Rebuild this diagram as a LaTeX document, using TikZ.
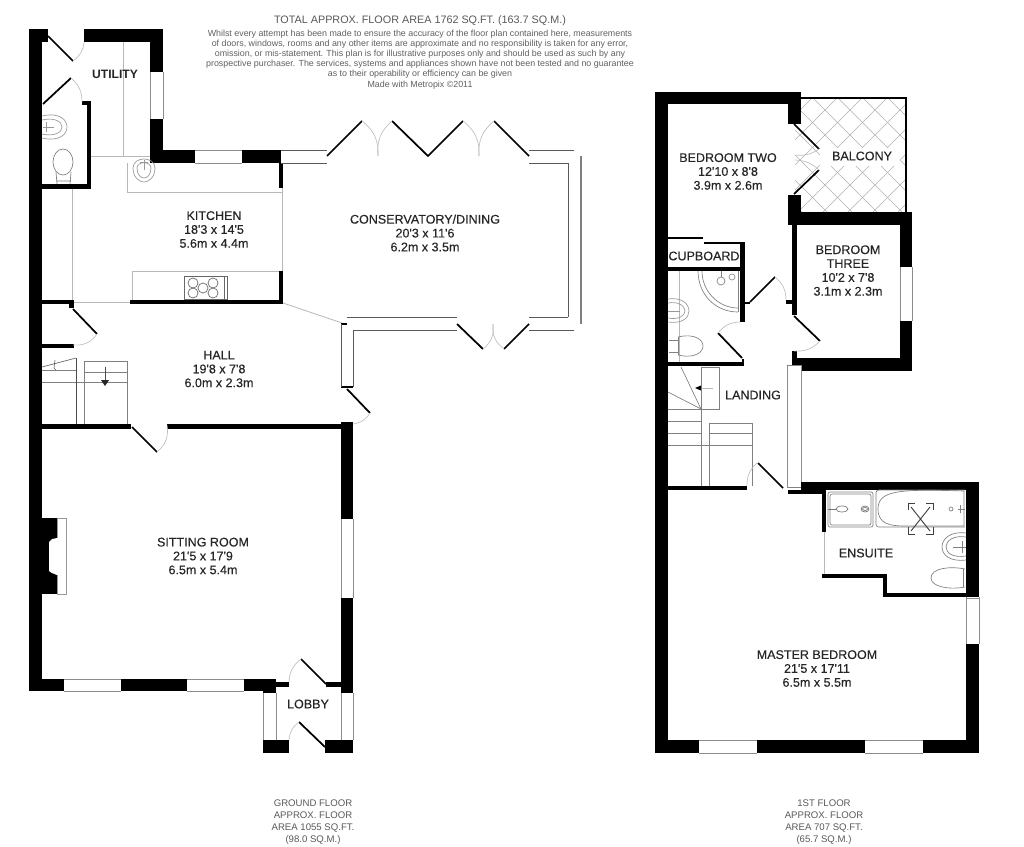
\documentclass[tikz,border=0pt]{standalone}
\usepackage{fontspec}
\setmainfont{Liberation Sans}
\newfontfamily\labelfont[FakeBold=0.22]{Liberation Sans}
\newcommand{\wl}[4]{\fill[wallfill] (#1,#2) rectangle (#3,#4);}
\newcommand{\wnv}[4]{\fill[white] (#1,#2) rectangle (#3,#4);\draw[winline] (#1,#2) -- (#1,#4) (#3,#2) -- (#3,#4);}
\newcommand{\wnh}[4]{\fill[white] (#1,#2) rectangle (#3,#4);\draw[winline] (#1,#2) -- (#3,#2) (#1,#4) -- (#3,#4);}
\tikzset{
  x=0.75pt,y=-0.75pt,
  wallfill/.style={fill=black},
  winline/.style={draw=black!45,line width=0.75pt},
  fixline/.style={draw=black!40,line width=0.5pt},
  glassline/.style={draw=black!65,line width=0.7pt},
  lightline/.style={draw=black!28,line width=0.6pt},
  doorleaf/.style={draw=black,line width=1.3pt},
  swing/.style={draw=black!25,line width=0.5pt},
  thinwall/.style={draw=black,line width=0.8pt},
  roomlabel/.style={font=\labelfont\fontsize{9.4}{10.4}\selectfont,align=center,text=black!85,inner sep=0pt},
  infotext/.style={font=\fontsize{6.65}{7.6}\selectfont,align=center,text=black!62,inner sep=0pt},
  headtext/.style={font=\fontsize{8.1}{9}\selectfont,align=center,text=black!65,inner sep=0pt},
  floortext/.style={font=\fontsize{7.2}{9}\selectfont,align=center,text=black!65,inner sep=0pt},
}
\begin{document}
\begin{tikzpicture}
\useasboundingbox (0,0) rectangle (1024,846);
\fill[white] (0,0) rectangle (1024,846);

%% ===== balcony lattice =====
\begin{scope}
\clip (795,98) rectangle (906,212);
\foreach \k in {-12,...,12} {
  \draw[lightline,draw=black!30,line width=0.5pt] (780+\k*25,90) -- ++(140,140);
  \draw[lightline,draw=black!30,line width=0.5pt] (920+\k*25,90) -- ++(-140,140);
}
\end{scope}
\fill[white] (820,148) rectangle (900,166);
\draw[thinwall,line width=1pt] (801,98) -- (906,98) -- (906,212);

%% ===== GROUND FLOOR light lines =====
\draw[lightline] (123,42) -- (123,156);
\draw[lightline] (91,156) -- (157,156);
\draw[lightline] (72,189) -- (72,302) -- (130,302);
\draw[lightline] (127,163) -- (127,192) -- (282,192);
\draw[lightline] (282,188) -- (282,271);
\draw[lightline] (132,300) -- (132,271) -- (280,271);
\draw[lightline] (283,303) -- (342,323);

%% walls ground
\wl{29}{29}{42}{691}
\wl{42}{29}{48}{42}
\wl{84}{29}{163}{42}
\wl{150}{42}{163}{72}
\wnv{150}{72}{163}{119}
\wl{150}{119}{163}{163}
\wl{163}{150}{195}{163}
\wnh{195}{150}{242}{163}
\wl{242}{150}{281}{163}
\wl{279}{163}{283}{188}
\wl{279}{271}{283}{304}
\wl{130}{300}{283}{304}
\wl{42}{300}{74}{304}
\wl{69}{304}{74}{308}
\wl{42}{344}{74}{348}
\wl{42}{424}{131}{429}
\wl{167}{424}{341}{429}
\wl{341}{422}{353}{519}
\wnv{341}{519}{353}{598}
\wl{341}{598}{353}{693}
\wl{42}{679}{64}{691}
\wnh{64}{679}{121}{691}
\wl{121}{679}{187}{691}
\wnh{187}{679}{244}{691}
\wl{244}{679}{276}{691}
\wl{263}{691}{276}{693}
\wl{276}{682}{289}{687}
\wl{326}{682}{341}{687}
\wnv{263}{693}{276}{740}
\wnv{341}{693}{353}{740}
\wl{263}{740}{289}{753}
\wl{325}{740}{353}{753}
%% utility WC partition
\wl{82}{101}{91}{105}
\wl{87}{101}{91}{189}
\wl{42}{184}{91}{189}
%% fireplace
\fill[black] (42,518) rectangle (57,594);
\fill[white] (57,538) -- (52,539) -- (49,542) -- (49,571) -- (52,573) -- (57,575) -- cycle;
\draw[fixline] (57,518) -- (66,518) -- (66,594) -- (57,594);
\draw[fixline] (57,518) -- (57,538) (57,575) -- (57,594);

%% conservatory
\draw[glassline] (281,150) -- (327,150) (281,163) -- (327,163);
\draw[glassline] (529,150) -- (574,150) (529,163) -- (568,163);
\draw[glassline] (568,163) -- (568,317);
\draw[lightline,draw=black!50,line width=0.8pt] (581,156) -- (581,324);
\draw[glassline] (347,317) -- (457,317) (353,330) -- (457,330);
\draw[glassline] (529,317) -- (568,317) (529,330) -- (574,330);
\draw[thinwall,line width=1pt] (341,324) -- (347,324);
\draw[thinwall,line width=1.1pt] (341,387) -- (353,387);
\draw[glassline] (353,330) -- (353,387) (341,324) -- (341,387);
\draw[doorleaf] (327,156) -- (362,121);
\draw[doorleaf] (392,121) -- (428,156) -- (463,121);
\draw[doorleaf] (494,121) -- (529,156);
\draw[doorleaf] (457,324) -- (483,349);
\draw[doorleaf] (529,324) -- (504,349);
\draw[swing] (362,121) to[bend left=28] (378,156);
\draw[swing] (392,121) to[bend right=28] (378,156);
\draw[swing] (463,121) to[bend left=28] (479,156);
\draw[swing] (494,121) to[bend right=28] (479,156);
\draw[swing] (483,349) to[bend right=30] (493,324);
\draw[swing] (504,349) to[bend left=30] (493,324);
\draw[doorleaf] (347,389) -- (370,413);
\draw[swing] (370,413) to[bend left=25] (353,424);

%% doors ground
\draw[doorleaf] (48,36) -- (73,61);
\draw[swing] (73,61) to[bend right=25] (84,42);
\draw[doorleaf] (71,78) -- (43,104);
\draw[swing] (71,78) to[bend left=25] (82,102);
\draw[doorleaf] (73,309) -- (97,334);
\draw[swing] (97,334) to[bend left=30] (73,345);
\draw[doorleaf] (132,427) -- (157,452);
\draw[swing] (157,452) to[bend right=30] (167,425);
\draw[doorleaf] (301,659) -- (326,684);
\draw[swing] (301,659) to[bend right=25] (289,682);
\draw[doorleaf] (299,722) -- (325,747);
\draw[swing] (299,722) to[bend right=25] (289,740);

%% fixtures ground
\draw[fixline] (133,168) .. controls (133,156) and (155,156) .. (155,168) .. controls (155,178) and (148,182) .. (144,182) .. controls (140,182) and (133,178) .. (133,168);
\draw[fixline] (137,168) .. controls (137,161) and (151,161) .. (151,168) .. controls (151,175) and (147,178) .. (144,178) .. controls (141,178) and (137,175) .. (137,168);
\draw[fixline] (144,160) -- (144,170) (140,162) -- (148,162);
\draw[fixline] (42,116) .. controls (60,112) and (67,120) .. (67,127) .. controls (67,134) and (60,142) .. (42,138);
\draw[fixline] (42,120) .. controls (55,117) and (62,122) .. (62,127) .. controls (62,132) and (55,137) .. (42,134);
\draw[fixline] (43,127) -- (54,127) (46,122) -- (46,132);
\draw[fixline,draw=black!50] (63,162) ellipse (10 and 13);
\draw[fixline,draw=black!50] (56,172) -- (57,184) (71,172) -- (70,184) (57,181) -- (71,181);
\fill[white] (186,277) rectangle (225,298);
\draw[fixline,draw=black!60] (184,276) rectangle (227,299);
\foreach \cx/\cy in {193/283,213/283,193/293,213/293,203/288}
  \draw[fixline,draw=black!60] (\cx,\cy) circle (5);
\draw[fixline,draw=black!60] (224,276) -- (224,299);

%% ground stairs
\draw[fixline,draw=black!50] (84,424) -- (84,361) -- (127,361) -- (127,424);
\draw[fixline,draw=black!50] (84,372) -- (127,372);
\draw[fixline,draw=black!50] (42,382) -- (127,382);
\draw[fixline,draw=black!50] (42,370) -- (76,370);
\draw[thinwall,draw=black!70,line width=0.6pt] (76,358) -- (76,424);
\draw[thinwall,draw=black!60,line width=0.5pt] (42,367) -- (76,358);
\draw[fixline,draw=black!60] (54,368) -- (55,360) (54,368) -- (56,370);
\draw[thinwall,draw=black!70,line width=0.5pt] (105,367) -- (105,381);
\fill[black!85] (101,380) -- (109,380) -- (105,386) -- cycle;

%% ===== FIRST FLOOR =====
\wl{655}{92}{668}{753}
\wl{668}{92}{801}{104}
\wl{788}{104}{801}{124}
\wl{788}{195}{801}{225}
\wl{801}{212}{912}{225}
\wl{900}{225}{912}{267}
\wnv{900}{267}{912}{321}
\wl{900}{321}{912}{371}
\wl{792}{358}{900}{371}
\wl{792}{225}{797}{315}
\wl{792}{351}{797}{358}
\wl{786}{300}{792}{304}
%% cupboard
\draw[thinwall,line width=1pt] (668,238) -- (703,238);
\draw[thinwall,line width=1pt] (704,243) -- (742,243);
\wl{740}{242}{745}{322}
\wl{668}{267}{745}{271}
\wl{745}{302}{750}{304}
\wl{668}{362}{744}{366}
\wl{742}{359}{744}{362}
%% shower
\draw[fixline,draw=black!50] (698,271) .. controls (698,294) and (715,312) .. (738,312);
\draw[fixline,draw=black!50] (702,271) .. controls (702,291) and (718,308) .. (738,308);
\draw[fixline,draw=black!50] (738,271) -- (738,312);
\draw[fixline,draw=black!50] (721,281) circle (4);
\draw[fixline,draw=black!50] (721,277) -- (721,271);
\draw[fixline,draw=black!45] (732,277) circle (3);
%% bath1
\draw[fixline,draw=black!28] (679,271) -- (679,362);
\draw[fixline] (668,299) .. controls (682,297) and (689,304) .. (689,311) .. controls (689,318) and (682,324) .. (668,322);
\draw[fixline] (668,303) .. controls (678,301) and (685,306) .. (685,311) .. controls (685,316) and (678,320) .. (668,318);
\draw[fixline] (668,311) -- (680,311);
\draw[fixline,draw=black!50] (678,337) .. controls (695,333) and (703,340) .. (703,346) .. controls (703,352) and (695,359) .. (678,355);
\draw[fixline,draw=black!50] (678,337) -- (678,355) (678,340) -- (669,340) (678,352) -- (669,352);
%% doors upper
\draw[doorleaf] (794,124) -- (819,149);
\draw[doorleaf] (794,194) -- (819,170);
\draw[swing] (819,149) to[bend left=20] (795,155);
\draw[swing] (819,170) to[bend right=20] (795,160);
\draw[doorleaf] (750,302) -- (775,277);
\draw[swing] (775,277) to[bend left=25] (786,300);
\draw[doorleaf] (718,333) -- (742,358);
\draw[swing] (718,333) to[bend left=25] (740,322);
\draw[doorleaf] (794,316) -- (820,341);
\draw[swing] (820,341) to[bend left=25] (794,351);

%% landing window and stairs
\wnv{787}{365}{801}{487}
\draw[fixline,draw=black!50] (787,365) -- (801,365);
\draw[fixline,draw=black!50] (787,487) -- (801,487);
\draw[fixline,draw=black!50] (701,367) -- (701,486);
\draw[fixline,draw=black!50] (701,367) -- (719,367) -- (719,409) -- (668,409);
\draw[fixline,draw=black!50] (681,367) -- (701,409) (668,392) -- (701,409);
\draw[fixline,draw=black!50] (668,421) -- (701,421) (668,433) -- (701,433) (668,445) -- (752,445);
\draw[fixline,draw=black!50] (709,486) -- (709,423) -- (752,423) -- (752,486);
\draw[fixline,draw=black!50] (709,433) -- (752,433);
\draw[lightline] (713,388) -- (700,388);
\fill[black] (701,385.5) -- (701,390.5) -- (695,388) -- cycle;
\wl{668}{486}{747}{490}
\draw[doorleaf] (758,463) -- (783,488);
\draw[swing] (757,463) to[bend right=25] (747,486);

%% ensuite walls
\wl{801}{482}{979}{490}
\wl{788}{490}{826}{494}
\wl{966}{490}{979}{597}
\wl{822}{494}{826}{532}
\draw[lightline] (824,532) -- (824,575);
\wl{822}{574}{887}{578}
\wl{883}{574}{887}{597}
\wl{883}{593}{979}{597}
\wnv{966}{597}{979}{644}
\draw[winline] (966,598) -- (979,598);
\wl{966}{644}{979}{753}
\wl{668}{740}{699}{753}
\wnh{699}{740}{757}{753}
\wl{757}{740}{865}{753}
\wnh{865}{740}{923}{753}
\wl{923}{740}{966}{753}
%% ensuite fixtures
\draw[fixline,draw=black!50,rounded corners=1.5pt] (828,492) rectangle (873,527);
\draw[fixline,draw=black!50,rounded corners=1.5pt] (830,494) rectangle (871,525);
\draw[fixline,draw=black!55] (842,509) ellipse (6 and 3);
\draw[fixline,draw=black!55] (828,509) -- (836,509);
\draw[fixline,draw=black!55] (865,509) ellipse (4 and 3);
\draw[fixline,draw=black!55] (865,509) ellipse (2.5 and 1.5);
\draw[fixline,draw=black!50,rounded corners=2pt] (965,527) -- (876,527) -- (876,490) -- (965,490);
\draw[fixline,draw=black!50] (964,491) .. controls (900,489) and (878,490) .. (878,509) .. controls (878,524) and (890,526) .. (905,526) -- (964,526) -- cycle;
\draw[fixline,draw=black!50] (951,509) circle (2);
\draw[fixline,draw=black!50] (958,509) -- (965,509) (960,505) -- (960,513);
\begin{scope}[line width=0.7pt,black!75]
\draw (908,510) -- (908,503) -- (915,503);
\draw (926,503) -- (933,503) -- (933,510);
\draw (908,527) -- (908,534) -- (915,534);
\draw (926,534) -- (933,534) -- (933,527);
\draw (911,507) -- (930,531) (930,507) -- (911,531);
\end{scope}
\draw[fixline,draw=black!50] (966,533) .. controls (950,531) and (942,539) .. (942,547) .. controls (942,555) and (950,562) .. (966,560);
\draw[fixline,draw=black!50] (966,537) .. controls (953,535) and (946,541) .. (946,547) .. controls (946,553) and (953,558) .. (966,556);
\draw[fixline,draw=black!50] (966,547) -- (953,547) (962,541) -- (962,553);
\draw[fixline,draw=black!50] (965,569) .. controls (950,566) and (931,568) .. (931,578) .. controls (931,587) and (950,590) .. (965,587);
\draw[fixline,draw=black!50] (963,569) -- (963,587);

%% ===== TEXT =====
\node[roomlabel,font=\fontsize{9.1}{10.4}\bfseries\selectfont] (utility) at (115,74) {UTILITY};
\node[roomlabel] (kitchen) at (214,229.5) {KITCHEN\\18'3 x 14'5\\5.6m x 4.4m};
\node[roomlabel] (conservatory) at (425,233) {CONSERVATORY/DINING\\20'3 x 11'6\\6.2m x 3.5m};
\node[roomlabel] (hall) at (219,369) {HALL\\19'8 x 7'8\\6.0m x 2.3m};
\node[roomlabel] (sitting) at (203,556) {SITTING ROOM\\21'5 x 17'9\\6.5m x 5.4m};
\node[roomlabel] (lobby) at (308,704) {LOBBY};
\node[roomlabel] (bedtwo) at (728,171.5) {BEDROOM TWO\\12'10 x 8'8\\3.9m x 2.6m};
\node[roomlabel] (balcony) at (862,156) {BALCONY};
\node[roomlabel] (cupboard) at (704,256) {CUPBOARD};
\node[roomlabel] (bedthree) at (848,270.5) {BEDROOM\\THREE\\10'2 x 7'8\\3.1m x 2.3m};
\node[roomlabel] (landing) at (753,395) {LANDING};
\node[roomlabel] (ensuite) at (866,553) {ENSUITE};
\node[roomlabel] (master) at (817,668.5) {MASTER BEDROOM\\21'5 x 17'11\\6.5m x 5.5m};
\node[headtext] (total) at (420,21) {TOTAL APPROX. FLOOR AREA 1762 SQ.FT. (163.7 SQ.M.)};
\node[infotext] (disclaimer) at (420,59.5) {Whilst every attempt has been made to ensure the accuracy of the floor plan contained here, measurements\\of doors, windows, rooms and any other items are approximate and no responsibility is taken for any error,\\omission, or mis-statement. This plan is for illustrative purposes only and should be used as such by any\\prospective purchaser. The services, systems and appliances shown have not been tested and no guarantee\\as to their operability or efficiency can be given\\Made with Metropix \textcopyright 2011};
\node[floortext] (groundcap) at (313,822) {GROUND FLOOR\\APPROX. FLOOR\\AREA 1055 SQ.FT.\\(98.0 SQ.M.)};
\node[floortext] (firstcap) at (824,822) {1ST FLOOR\\APPROX. FLOOR\\AREA 707 SQ.FT.\\(65.7 SQ.M.)};
\end{tikzpicture}
\end{document}
